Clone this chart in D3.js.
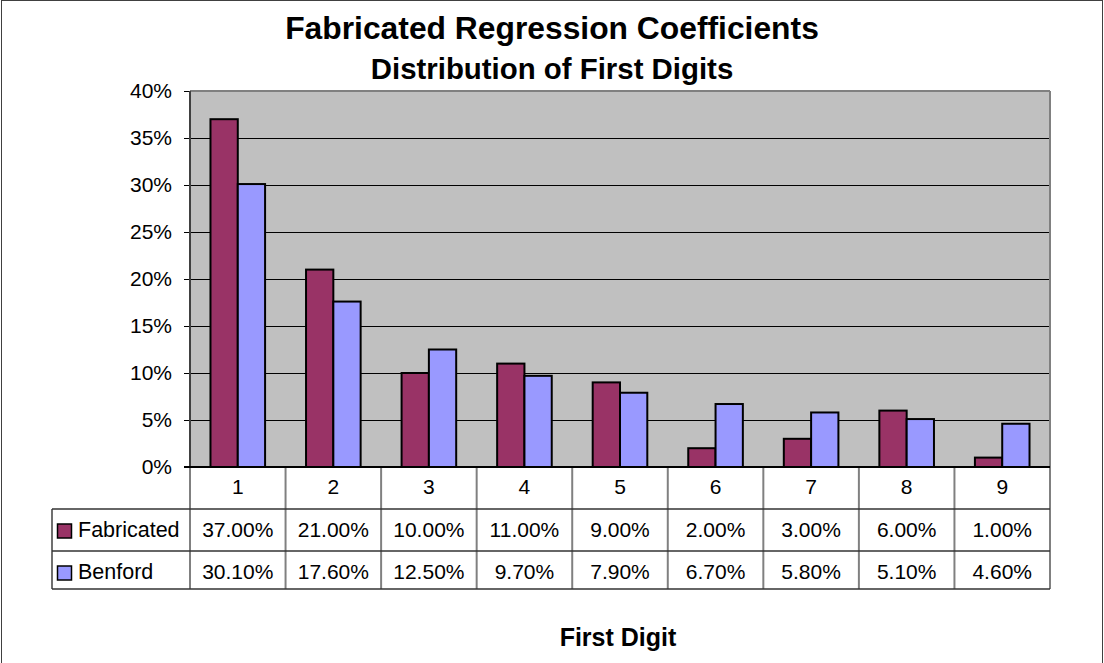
<!DOCTYPE html>
<html>
<head>
<meta charset="utf-8">
<script src="https://cdn.jsdelivr.net/npm/d3@7"></script>
<style>
  html, body { margin: 0; padding: 0; background: #fff; }
  svg { display: block; }
  text { font-family: "Liberation Sans", Arial, sans-serif; fill: #000; }
</style>
</head>
<body>
<svg id="chart" width="1104" height="663"></svg>
<script>
const digits = ["1", "2", "3", "4", "5", "6", "7", "8", "9"];
const seriesNames = ["Fabricated", "Benford"];
const fabricated = [37.00, 21.00, 10.00, 11.00, 9.00, 2.00, 3.00, 6.00, 1.00];
const benford = [30.10, 17.60, 12.50, 9.70, 7.90, 6.70, 5.80, 5.10, 4.60];
const yTicks = [0, 5, 10, 15, 20, 25, 30, 35, 40];
const colors = ["#993366", "#9999FF"];
const titleLines = ["Fabricated Regression Coefficients", "Distribution of First Digits"];
const xTitle = "First Digit";

const series = [fabricated, benford];

const svg = d3.select("#chart");

// outer border
svg.append("rect").attr("x", 1.5).attr("y", 0.5).attr("width", 1101).attr("height", 670)
  .attr("fill", "#fff").attr("stroke", "#404040").attr("stroke-width", 1);

const plotL = 190, plotR = 1050, plotT = 91, plotB = 467;

const x = d3.scaleBand().domain(digits).range([plotL, plotR]).paddingInner(0).paddingOuter(0);
const y = d3.scaleLinear().domain([0, 40]).range([plotB, plotT]);
const bw = x.bandwidth();
const barW = bw / 3.5;
const inner = d3.scaleBand().domain(seriesNames).range([0, 2 * barW]);

// plot background
svg.append("rect").attr("x", plotL).attr("y", plotT).attr("width", plotR - plotL).attr("height", plotB - plotT)
  .attr("fill", "#C0C0C0");

// gridlines
svg.append("g").selectAll("line").data(yTicks.filter(d => d > 0 && d < 40)).join("line")
  .attr("x1", plotL).attr("x2", plotR)
  .attr("y1", d => Math.round(y(d)) + 0.5).attr("y2", d => Math.round(y(d)) + 0.5)
  .attr("stroke", "#000").attr("stroke-width", 1);

// plot border (top and right)
svg.append("line").attr("x1", plotL).attr("x2", plotR).attr("y1", plotT).attr("y2", plotT)
  .attr("stroke", "#808080").attr("stroke-width", 2);
svg.append("line").attr("x1", plotR).attr("x2", plotR).attr("y1", plotT).attr("y2", plotB)
  .attr("stroke", "#808080").attr("stroke-width", 2);

// bars
series.forEach((vals, si) => {
  svg.append("g").selectAll("rect").data(digits).join("rect")
    .attr("x", (d) => x(d) + (bw - 2 * barW) / 2 + inner(seriesNames[si]))
    .attr("y", (d, i) => y(vals[i]))
    .attr("width", barW)
    .attr("height", (d, i) => y(0) - y(vals[i]))
    .attr("fill", colors[si])
    .attr("stroke", "#000").attr("stroke-width", 2);
});

// y axis
const yAxis = d3.axisLeft(y).tickValues(yTicks).tickFormat(d => d + "%").tickSize(6).tickPadding(12);
const yg = svg.append("g").attr("transform", `translate(${plotL},0)`).call(yAxis);
yg.select(".domain").remove();
yg.selectAll(".tick line").attr("stroke", "#000");
yg.selectAll(".tick text").attr("font-size", 21).attr("font-family", "Liberation Sans, Arial, sans-serif").attr("fill", "#000");
svg.append("line").attr("x1", plotL).attr("x2", plotL).attr("y1", plotT).attr("y2", plotB)
  .attr("stroke", "#404040").attr("stroke-width", 2);

// data table
const tableL = 52;
const rowLines = [509, 551, 589];
const tableB = 589;
svg.append("g").selectAll("line").data(digits.concat(["end"])).join("line")
  .attr("x1", (d, i) => i < digits.length ? x(d) : plotR)
  .attr("x2", (d, i) => i < digits.length ? x(d) : plotR)
  .attr("y1", plotB).attr("y2", tableB)
  .attr("stroke", "#808080").attr("stroke-width", 2);
svg.append("line").attr("x1", tableL).attr("x2", tableL).attr("y1", rowLines[0]).attr("y2", tableB)
  .attr("stroke", "#404040").attr("stroke-width", 1.5);
svg.append("g").selectAll("line").data(rowLines).join("line")
  .attr("x1", tableL).attr("x2", plotR)
  .attr("y1", d => d).attr("y2", d => d)
  .attr("stroke", "#333").attr("stroke-width", 1.5);

// x axis line (category axis)
svg.append("line").attr("x1", plotL - 6).attr("x2", plotR).attr("y1", plotB).attr("y2", plotB)
  .attr("stroke", "#000").attr("stroke-width", 2);

// header digits
svg.append("g").selectAll("text").data(digits).join("text")
  .attr("x", d => x(d) + bw / 2).attr("y", 494)
  .attr("text-anchor", "middle").attr("font-size", 21).text(d => d);

// values
const rowY = [537, 579];
series.forEach((vals, si) => {
  svg.append("g").selectAll("text").data(digits).join("text")
    .attr("x", d => x(d) + bw / 2).attr("y", rowY[si])
    .attr("text-anchor", "middle").attr("font-size", 21)
    .text((d, i) => vals[i].toFixed(2) + "%");
  svg.append("rect").attr("x", 57.5).attr("y", rowY[si] - 13).attr("width", 14).attr("height", 14)
    .attr("fill", colors[si]).attr("stroke", "#000").attr("stroke-width", 1.5);
  svg.append("text").attr("x", 78).attr("y", rowY[si]).attr("font-size", 21.5).text(seriesNames[si]);
});

// titles
svg.append("text").attr("x", 552).attr("y", 39).attr("text-anchor", "middle")
  .attr("font-size", 31.8).attr("font-weight", "bold").text(titleLines[0]);
svg.append("text").attr("x", 552).attr("y", 79).attr("text-anchor", "middle")
  .attr("font-size", 29.4).attr("font-weight", "bold").text(titleLines[1]);

// x axis title
svg.append("text").attr("x", 618).attr("y", 646).attr("text-anchor", "middle")
  .attr("font-size", 25).attr("font-weight", "bold").text(xTitle);
</script>
</body>
</html>
